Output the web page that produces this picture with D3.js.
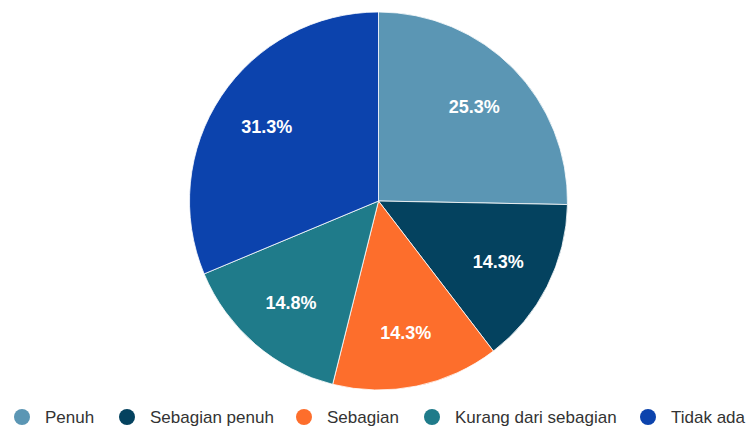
<!DOCTYPE html>
<html>
<head>
<meta charset="utf-8">
<script src="https://cdn.jsdelivr.net/npm/d3@7"></script>
<style>
  body { margin: 0; background: #fff; }
  svg { display: block; }
</style>
</head>
<body>
<div id="chart"></div>
<script>
const categories = ["Penuh", "Sebagian penuh", "Sebagian", "Kurang dari sebagian", "Tidak ada"];
const values = [25.3, 14.3, 14.3, 14.8, 31.3];
const colors = ["#5b96b4", "#04425f", "#fd6e2c", "#1f7b8a", "#0c43ad"];
const legendX = [22, 127, 304, 432, 648];

const width = 747, height = 426;
const cx = 378.5, cy = 201, radius = 189;

const svg = d3.select("#chart").append("svg")
  .attr("width", width)
  .attr("height", height);

const pie = d3.pie().sort(null).value(d => d);
const arcs = pie(values);
const arc = d3.arc().innerRadius(0).outerRadius(radius);
const labelArc = d3.arc().innerRadius(radius * 0.71).outerRadius(radius * 0.71);

const g = svg.append("g").attr("transform", `translate(${cx},${cy})`);

g.selectAll("path")
  .data(arcs)
  .join("path")
  .attr("d", arc)
  .attr("fill", (d, i) => colors[i])
  .attr("stroke", "#fff")
  .attr("stroke-width", 0.8);

g.selectAll("text")
  .data(arcs)
  .join("text")
  .attr("transform", d => `translate(${labelArc.centroid(d)})`)
  .attr("text-anchor", "middle")
  .attr("dy", "0.35em")
  .attr("fill", "#fff")
  .style("font-family", "Liberation Sans, Arial, sans-serif")
  .style("font-size", "18px")
  .style("font-weight", "bold")
  .text(d => d.data.toFixed(1) + "%");

// legend
const legend = svg.append("g").attr("transform", "translate(0,417)");
const items = legend.selectAll("g")
  .data(categories)
  .join("g")
  .attr("transform", (d, i) => `translate(${legendX[i]},0)`);

items.append("circle")
  .attr("r", 8)
  .attr("fill", (d, i) => colors[i]);

items.append("text")
  .attr("x", 23)
  .attr("dy", "0.35em")
  .attr("fill", "#333")
  .style("font-family", "Liberation Sans, Arial, sans-serif")
  .style("font-size", "17px")
  .text(d => d);
</script>
</body>
</html>
